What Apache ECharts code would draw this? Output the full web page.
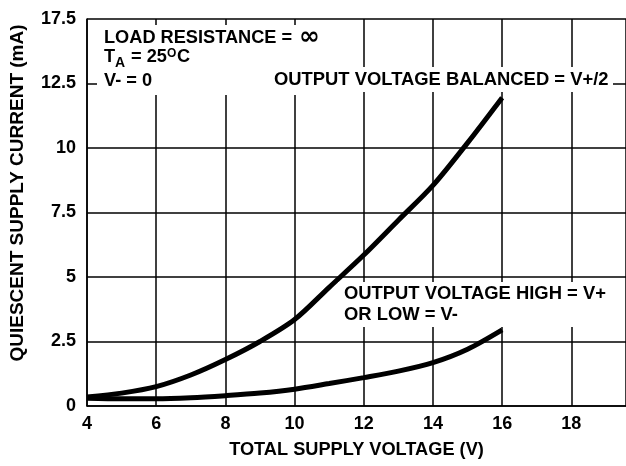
<!DOCTYPE html>
<html>
<head>
<meta charset="utf-8">
<script src="https://cdn.jsdelivr.net/npm/echarts@6/dist/echarts.min.js"></script>
<style>
html,body{margin:0;padding:0;background:#fff;}
#chart{width:626px;height:466px;}
</style>
</head>
<body>
<div id="chart"></div>
<script>
// ---- data ----
const supplyVoltage   = [4, 5, 6, 7, 8, 9, 10, 11, 12, 13, 14, 15, 16];
const balancedCurrent = [0.35, 0.5, 0.75, 1.2, 1.8, 2.5, 3.35, 4.6, 5.85, 7.2, 8.55, 10.2, 11.95];
const highLowCurrent  = [0.3, 0.28, 0.28, 0.32, 0.4, 0.5, 0.65, 0.87, 1.1, 1.35, 1.68, 2.2, 2.95];
const xTickLabels = ['4', '6', '8', '10', '12', '14', '16', '18'];
const yTickLabels = ['0', '2.5', '5', '7.5', '10', '12.5', '17.5'];

const FONT = '"Liberation Sans", Arial, Helvetica, sans-serif';
const chart = echarts.init(document.getElementById('chart'), null, {renderer: 'canvas'});

function pairs(xs, ys) { return xs.map((x, i) => [x, ys[i]]); }

const option = {
  backgroundColor: '#fff',
  animation: false,
  grid: {left: 87, right: 0, top: 19, bottom: 60, containLabel: false},
  xAxis: {
    type: 'value', min: 4, max: 19.58, interval: 2,
    axisLine: {show: true, lineStyle: {color: '#000', width: 1.5}},
    axisTick: {show: false},
    splitLine: {show: true, lineStyle: {color: '#000', width: 1.5}},
    axisLabel: {
      showMaxLabel: false, margin: 9,
      color: '#000', fontFamily: FONT, fontWeight: 'bold', fontSize: 18,
      formatter: v => { const i = Math.round((v - 4) / 2); return (Math.abs(v - 4 - 2 * i) < 1e-6 && xTickLabels[i]) ? xTickLabels[i] : ''; }
    },
    name: 'TOTAL SUPPLY VOLTAGE (V)', nameLocation: 'middle', nameGap: 35,
    nameTextStyle: {color: '#000', fontFamily: FONT, fontWeight: 'bold', fontSize: 18.2}
  },
  yAxis: {
    type: 'value', min: 0, max: 15, interval: 2.5,
    axisLine: {show: true, lineStyle: {color: '#000', width: 1.5}},
    axisTick: {show: false},
    splitLine: {show: true, lineStyle: {color: '#000', width: 1.5}},
    axisLabel: {
      margin: 11, color: '#000', fontFamily: FONT, fontWeight: 'bold', fontSize: 18,
      formatter: v => yTickLabels[Math.round(v / 2.5)] || ''
    }
  },
  graphic: [
    {type: 'text', z: 100, x: 18, y: 193, rotation: Math.PI / 2,
     style: {text: 'QUIESCENT SUPPLY CURRENT (mA)', fill: '#000', font: 'bold 19px ' + FONT, align: 'center', verticalAlign: 'middle'}},
    // white backing boxes behind the annotations
    {type: 'rect', z: 100, shape: {x: 97, y: 25, width: 230, height: 70}, style: {fill: '#fff'}},
    {type: 'rect', z: 100, shape: {x: 268, y: 67, width: 345, height: 25}, style: {fill: '#fff'}},
    {type: 'rect', z: 100, shape: {x: 338, y: 282, width: 274, height: 45}, style: {fill: '#fff'}},
    {type: 'text', z: 101, x: 104, y: 38, style: {text: 'LOAD RESISTANCE =', fill: '#000', font: 'bold 18.2px ' + FONT, verticalAlign: 'middle'}},
    {type: 'text', z: 101, x: 299, y: 37, style: {text: '∞', fill: '#000', font: 'bold 25px "DejaVu Sans", sans-serif', verticalAlign: 'middle'}},
    {type: 'text', z: 101, x: 104, y: 57, style: {text: 'T', fill: '#000', font: 'bold 18.2px ' + FONT, verticalAlign: 'middle'}},
    {type: 'text', z: 101, x: 115, y: 63, style: {text: 'A', fill: '#000', font: 'bold 14px ' + FONT, verticalAlign: 'middle'}},
    {type: 'text', z: 101, x: 126, y: 57, style: {text: ' = 25', fill: '#000', font: 'bold 18.2px ' + FONT, verticalAlign: 'middle'}},
    {type: 'text', z: 101, x: 167, y: 54, style: {text: 'O', fill: '#000', font: 'bold 12px ' + FONT, verticalAlign: 'middle'}},
    {type: 'text', z: 101, x: 177, y: 57, style: {text: 'C', fill: '#000', font: 'bold 18.2px ' + FONT, verticalAlign: 'middle'}},
    {type: 'text', z: 101, x: 104, y: 80.5, style: {text: 'V- = 0', fill: '#000', font: 'bold 18.2px ' + FONT, verticalAlign: 'middle'}},
    {type: 'text', z: 101, x: 274, y: 79.5, style: {text: 'OUTPUT VOLTAGE BALANCED = V+/2', fill: '#000', font: 'bold 18.4px ' + FONT, verticalAlign: 'middle'}},
    {type: 'text', z: 101, x: 344, y: 294, style: {text: 'OUTPUT VOLTAGE HIGH = V+', fill: '#000', font: 'bold 18.4px ' + FONT, verticalAlign: 'middle'}},
    {type: 'text', z: 101, x: 344, y: 314.5, style: {text: 'OR LOW = V-', fill: '#000', font: 'bold 18.4px ' + FONT, verticalAlign: 'middle'}}
  ],
  series: [
    {name: 'Output voltage balanced = V+/2', type: 'line', data: pairs(supplyVoltage, balancedCurrent),
     showSymbol: false, smooth: 0.3, lineStyle: {color: '#000', width: 5}, z: 5},
    {name: 'Output voltage high = V+ or low = V-', type: 'line', data: pairs(supplyVoltage, highLowCurrent),
     showSymbol: false, smooth: 0.3, lineStyle: {color: '#000', width: 5}, z: 5}
  ]
};
chart.setOption(option);
</script>
</body>
</html>
